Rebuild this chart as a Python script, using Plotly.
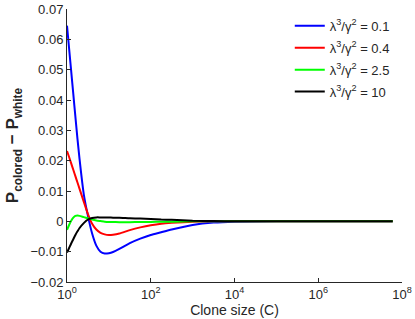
import plotly.graph_objects as go

# Clone sizes (C) at which values were read
clone_size = [1, 1.122, 1.259, 1.413, 1.585, 1.778, 1.995, 2.512, 3.162, 3.981,
              5.012, 6.310, 7.943, 10, 12.59, 17.78, 31.62, 56.23, 100, 177.8,
              316.2, 1000, 3162, 1e4, 1e5, 1e6, 1e7, 6e7]

diff_01 = [0.0645, 0.0570, 0.0495, 0.0420, 0.0345, 0.0272, 0.0205, 0.0090, 0.0018, -0.0040,
           -0.0080, -0.0100, -0.0106, -0.0105, -0.0101, -0.0091, -0.0072, -0.0057, -0.0045, -0.0036,
           -0.0027, -0.0012, -0.0004, -0.0001, 0, 0, 0, 0]
diff_04 = [0.0232, 0.0212, 0.0191, 0.0170, 0.0149, 0.0128, 0.0107, 0.0065, 0.0024, -0.0008,
           -0.0027, -0.0038, -0.0043, -0.0045, -0.0044, -0.0040, -0.0029, -0.0020, -0.0013, -0.0008,
           -0.0005, -0.0001, 0, 0, 0, 0, 0, 0]
diff_25 = [-0.0028, -0.0012, 0.0002, 0.0012, 0.0018, 0.0019, 0.0018, 0.0014, 0.0010, 0.0006,
           0.0003, 0.0001, -0.0001, -0.0002, -0.0002, -0.0003, -0.0003, -0.0002, -0.0002, -0.0001,
           -0.0001, 0, 0, 0, 0, 0, 0, 0]
diff_10 = [-0.0103, -0.0088, -0.0073, -0.0059, -0.0045, -0.0033, -0.0022, -0.0006, 0.0006, 0.0011,
           0.0013, 0.0013, 0.0013, 0.0013, 0.0012, 0.0012, 0.0010, 0.0009, 0.0008, 0.0006,
           0.0005, 0.0002, 0.0001, 0, 0, 0, 0, 0]

series_names = ["λ<sup>3</sup>/γ<sup>2</sup> = 0.1", "λ<sup>3</sup>/γ<sup>2</sup> = 0.4",
                "λ<sup>3</sup>/γ<sup>2</sup> = 2.5", "λ<sup>3</sup>/γ<sup>2</sup> = 10"]
series_values = [diff_01, diff_04, diff_25, diff_10]
series_colors = ["#0000ff", "#ff0000", "#00ff00", "#000000"]

x_tickvals = [1, 1e2, 1e4, 1e6, 1e8]
x_ticktext = ["10<sup>0</sup>", "10<sup>2</sup>", "10<sup>4</sup>", "10<sup>6</sup>", "10<sup>8</sup>"]
y_tickvals = [-0.02, -0.01, 0, 0.01, 0.02, 0.03, 0.04, 0.05, 0.06, 0.07]
y_ticktext = ["\u22120.02", "\u22120.01", "0", "0.01", "0.02", "0.03", "0.04", "0.05", "0.06", "0.07"]

fig = go.Figure()
for i, (name, vals, col) in enumerate(zip(series_names, series_values, series_colors)):
    fig.add_trace(go.Scatter(x=clone_size, y=vals, mode="lines", name=name,
                             legendgroup=f"g{i}",
                             line=dict(color=col, width=2, shape="spline", smoothing=0.6)))

axis_color = "#262626"
fig.update_layout(
    width=415, height=319,
    margin=dict(l=67, r=13, t=9, b=37, autoexpand=False),
    paper_bgcolor="white", plot_bgcolor="white",
    font=dict(family="Liberation Sans, Arial, sans-serif", size=13, color="#262626"),
    showlegend=True,
    legend=dict(x=0.665, y=0.993, xanchor="left", yanchor="top",
                bgcolor="rgba(255,255,255,0)", font=dict(size=13),
                itemwidth=30, tracegroupgap=2),
)
fig.update_xaxes(type="log", range=[0, 8], tickvals=x_tickvals, ticktext=x_ticktext,
                 ticks="inside", ticklen=4, tickcolor=axis_color, showline=True,
                 linecolor=axis_color, linewidth=1, showgrid=False, zeroline=False,
                 automargin=False,
                 title=dict(text="Clone size (C)", font=dict(size=14), standoff=2),
                 tickfont=dict(size=13))
fig.update_yaxes(range=[-0.02, 0.07], tickvals=y_tickvals, ticktext=y_ticktext,
                 ticks="inside", ticklen=4, tickcolor=axis_color, showline=True,
                 linecolor=axis_color, linewidth=1, showgrid=False, zeroline=False,
                 automargin=False,
                 title=dict(text="<b>P<sub>colored</sub> \u2212 P<sub>white</sub></b>",
                            font=dict(size=17), standoff=7),
                 tickfont=dict(size=13))

fig.write_html("out.html", config={"displayModeBar": False},
               post_script="document.body.style.margin='0';document.body.style.overflow='hidden';")
